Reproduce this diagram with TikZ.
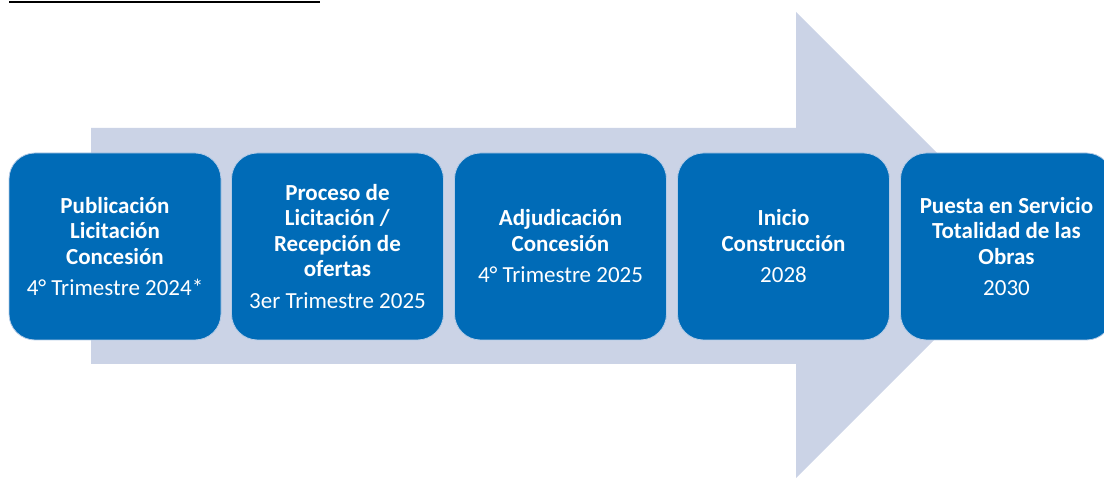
\documentclass[tikz,border=0pt]{standalone}
\usepackage{fontspec}
\setmainfont{Carlito}
\usepackage{xcolor}
\definecolor{stageblue}{HTML}{006BB7}
\definecolor{stageedge}{HTML}{B4CBE6}
\definecolor{arrowgray}{HTML}{CBD3E6}

\begin{document}
\begin{tikzpicture}[x=1pt,y=1pt]
			\tikzstyle{stage}=[fill=stageblue, draw=stageedge, line width=0.8pt, rounded corners=26pt,
				minimum width=212pt, minimum height=187pt, align=center, text=white,
				font=\fontsize{23}{25.5}\selectfont]
			\tikzstyle{flow}=[fill=arrowgray]

			\useasboundingbox (0,0) rectangle (1104,478);
			\clip (0,0) rectangle (1104,478);

			% underline of the cut heading
			\draw[line width=1.6pt] (9,476) -- (320,476);

			% big arrow behind the stages
			\fill[flow] (91,114) -- (91,350) -- (796,350) -- (796,466) -- (1029,233)
				-- (796,0) -- (796,114) -- cycle;

			\node[stage](pub) at (115,231.5) {\textbf{Publicación}\\\textbf{Licitación}\\\textbf{Concesión}\\[6pt]4° Trimestre 2024*};
			\node[stage](proc) at (337.5,231.5) {\textbf{Proceso de}\\\textbf{Licitación /}\\\textbf{Recepción de}\\\textbf{ofertas}\\[6pt]3er Trimestre 2025};
			\node[stage](adj) at (560.5,231.5) {\textbf{Adjudicación}\\\textbf{Concesión}\\[6pt]4° Trimestre 2025};
			\node[stage](ini) at (783.5,231.5) {\textbf{Inicio}\\\textbf{Construcción}\\[6pt]2028};
			\node[stage](serv) at (1006.5,231.5) {\textbf{Puesta en Servicio}\\\textbf{Totalidad de las}\\\textbf{Obras}\\[6pt]2030};
\end{tikzpicture}
\end{document}
